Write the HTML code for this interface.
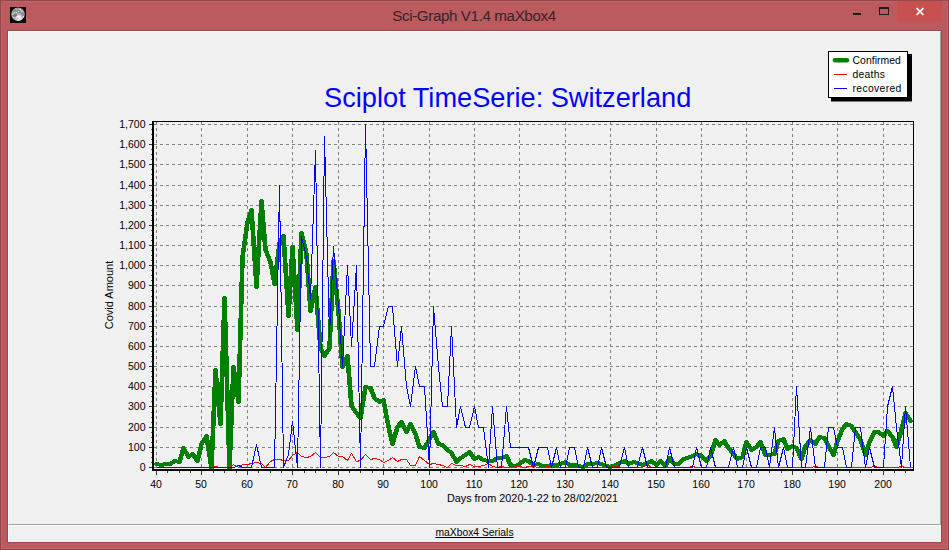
<!DOCTYPE html>
<html><head><meta charset="utf-8"><title>Sci-Graph V1.4 maXbox4</title>
<style>
html,body{margin:0;padding:0;}
body{width:949px;height:550px;overflow:hidden;background:#bb5a5f;font-family:"Liberation Sans",sans-serif;position:relative;}
#frame{position:absolute;left:0;top:0;width:947px;height:548px;border:1px solid #8f484c;background:#bb5a5f;}
#title{position:absolute;left:0;top:6px;width:948px;text-align:center;font-size:15.2px;line-height:19px;color:#3a2226;letter-spacing:-0.4px;}
#icon{position:absolute;left:10px;top:7px;width:16px;height:16px;background:#000;}
#close{position:absolute;left:897px;top:1px;width:45px;height:20px;background:#c75050;}
#content{position:absolute;left:8px;top:31px;width:933px;height:511px;background:#f0f0f0;}
#edge{position:absolute;left:7px;top:30px;width:933px;height:511px;border:1px solid #a3464c;}
#hl{position:absolute;left:1px;top:1px;width:945px;height:546px;border:1px solid #c26368;}
#panel{position:absolute;left:8px;top:31px;width:931px;height:492px;border-left:1px solid #fff;border-top:1px solid #fff;border-right:1px solid #a0a0a0;border-bottom:1px solid #a0a0a0;}
#status{position:absolute;left:8px;top:525px;width:932px;height:17px;border-top:1px solid #fff;border-left:1px solid #fff;box-sizing:border-box;text-align:center;font-size:10.35px;line-height:13px;color:#000;}
#status span{text-decoration:underline;}
#chart{position:absolute;left:0;top:0;}
</style></head><body>
<div id="frame"></div>
<div id="hl"></div>
<div id="edge"></div>
<div id="content"></div>
<div id="panel"></div>
<div id="icon"><svg width="16" height="16" viewBox="0 0 16 16"><defs><radialGradient id="mg" cx="8.8" cy="10.9" r="4.8" gradientUnits="userSpaceOnUse"><stop offset="0" stop-color="#fcfcfc"/><stop offset="0.5" stop-color="#e6e6e6" stop-opacity="0.95"/><stop offset="1" stop-color="#c0c0c0" stop-opacity="0"/></radialGradient><clipPath id="mc"><circle cx="8" cy="7.3" r="6.8"/></clipPath></defs><circle cx="8" cy="7.3" r="6.8" fill="#a0a0a0"/><g clip-path="url(#mc)"><ellipse cx="7" cy="4.3" rx="3.6" ry="2" fill="#8a8a8a"/><ellipse cx="12.3" cy="7.4" rx="1.5" ry="2.2" fill="#8c8c8c"/><circle cx="8" cy="7.3" r="6.8" fill="url(#mg)"/><ellipse cx="5" cy="8.5" rx="2.2" ry="1.3" fill="#787878" transform="rotate(-15 5 8.5)"/><ellipse cx="7.2" cy="11.7" rx="1.7" ry="0.5" fill="#b0b0b0" transform="rotate(-15 7.2 11.7)"/><circle cx="4.9" cy="5.5" r="0.65" fill="#f6f6f6"/><circle cx="6.7" cy="5.6" r="0.6" fill="#f2f2f2"/><circle cx="8.5" cy="4.6" r="0.55" fill="#ededed"/><circle cx="10.3" cy="2.5" r="0.75" fill="#f0f0f0"/><circle cx="11.9" cy="4" r="0.8" fill="#eaeaea"/><circle cx="3" cy="7" r="0.7" fill="#e0e0e0"/><circle cx="13.4" cy="9.6" r="0.7" fill="#e6e6e6"/><circle cx="6.2" cy="2.7" r="0.55" fill="#d8d8d8"/><circle cx="3.8" cy="10.6" r="0.7" fill="#ececec"/></g></svg></div>
<div id="title">Sci-Graph V1.4 maXbox4</div>
<div id="close"></div>
<svg id="ctl" style="position:absolute;left:0;top:0" width="949" height="31" viewBox="0 0 949 31" shape-rendering="crispEdges">
<rect x="853" y="13" width="8" height="2" fill="#1e1e1e"/>
<rect x="879" y="7" width="10" height="8" fill="none"/>
<path d="M879 7h10v8h-10z M880 9v5h8v-5z" fill="#1e1e1e" fill-rule="evenodd"/>
<path d="M916.6 8.1 L923.4 14.9 M923.4 8.1 L916.6 14.9" stroke="#fff" stroke-width="1.6" fill="none" shape-rendering="geometricPrecision"/>
</svg>
<div id="status"><span>maXbox4 Serials</span></div>
<svg id="chart" width="949" height="550" viewBox="0 0 949 550">
<g stroke="#808080" stroke-width="1" stroke-dasharray="3 3" shape-rendering="crispEdges" fill="none"><line x1="154" x2="913" y1="467.5" y2="467.5"/><line x1="154" x2="913" y1="447.5" y2="447.5"/><line x1="154" x2="913" y1="427.5" y2="427.5"/><line x1="154" x2="913" y1="406.5" y2="406.5"/><line x1="154" x2="913" y1="386.5" y2="386.5"/><line x1="154" x2="913" y1="366.5" y2="366.5"/><line x1="154" x2="913" y1="346.5" y2="346.5"/><line x1="154" x2="913" y1="326.5" y2="326.5"/><line x1="154" x2="913" y1="306.5" y2="306.5"/><line x1="154" x2="913" y1="285.5" y2="285.5"/><line x1="154" x2="913" y1="265.5" y2="265.5"/><line x1="154" x2="913" y1="245.5" y2="245.5"/><line x1="154" x2="913" y1="225.5" y2="225.5"/><line x1="154" x2="913" y1="205.5" y2="205.5"/><line x1="154" x2="913" y1="185.5" y2="185.5"/><line x1="154" x2="913" y1="164.5" y2="164.5"/><line x1="154" x2="913" y1="144.5" y2="144.5"/><line x1="154" x2="913" y1="124.5" y2="124.5"/><line x1="156.5" x2="156.5" y1="122" y2="469"/><line x1="201.5" x2="201.5" y1="122" y2="469"/><line x1="247.5" x2="247.5" y1="122" y2="469"/><line x1="292.5" x2="292.5" y1="122" y2="469"/><line x1="338.5" x2="338.5" y1="122" y2="469"/><line x1="383.5" x2="383.5" y1="122" y2="469"/><line x1="429.5" x2="429.5" y1="122" y2="469"/><line x1="474.5" x2="474.5" y1="122" y2="469"/><line x1="519.5" x2="519.5" y1="122" y2="469"/><line x1="565.5" x2="565.5" y1="122" y2="469"/><line x1="610.5" x2="610.5" y1="122" y2="469"/><line x1="656.5" x2="656.5" y1="122" y2="469"/><line x1="701.5" x2="701.5" y1="122" y2="469"/><line x1="746.5" x2="746.5" y1="122" y2="469"/><line x1="792.5" x2="792.5" y1="122" y2="469"/><line x1="837.5" x2="837.5" y1="122" y2="469"/><line x1="883.5" x2="883.5" y1="122" y2="469"/></g>
<clipPath id="cp"><rect x="154" y="122" width="759" height="349"/></clipPath>
<g clip-path="url(#cp)" fill="none" shape-rendering="crispEdges">
<path d="M136.09 463.5 L140.43 464.5 L143.91 463.5 L148.26 463.5 L151.74 460.5 L156.09 461.5 L159.57 447.5 L163.91 456.5 L167.39 453.5 L171.74 460.5 L175.22 443.5 L179.57 435.5 L183.91 467.5 L187.39 369.5 L191.74 423.5 L195.22 297.5 L199.57 467.5 L203.04 366.5 L207.39 401.5 L210.87 256.5 L215.22 221.5 L218.70 209.5 L223.04 286.5 L227.39 200.5 L230.87 249.5 L235.22 261.5 L238.70 283.5 L243.04 242.5 L246.52 235.5 L250.87 315.5 L254.35 246.5 L258.70 329.5 L262.17 232.5 L266.52 253.5 L270.00 310.5 L274.35 286.5 L278.70 347.5 L282.17 355.5 L286.52 347.5 L290.00 260.5 L294.35 311.5 L297.83 366.5 L302.17 355.5 L305.65 405.5 L310.00 412.5 L313.48 417.5 L317.83 386.5 L322.17 387.5 L325.65 397.5 L330.00 401.5 L333.48 399.5 L337.83 426.5 L341.30 443.5 L345.65 426.5 L349.13 421.5 L353.48 431.5 L356.96 423.5 L361.30 433.5 L364.78 446.5 L369.13 447.5 L373.48 438.5 L376.96 431.5 L381.30 443.5 L384.78 444.5 L389.13 449.5 L392.61 452.5 L396.96 461.5 L400.43 457.5 L404.78 454.5 L408.26 451.5 L412.61 458.5 L416.09 456.5 L420.43 459.5 L424.78 460.5 L428.26 460.5 L432.61 457.5 L436.09 457.5 L440.43 455.5 L443.91 464.5 L448.26 465.5 L451.74 463.5 L456.09 459.5 L459.57 460.5 L463.91 464.5 L468.26 463.5 L471.74 465.5 L476.09 465.5 L479.57 464.5 L483.91 464.5 L487.39 463.5 L491.74 461.5 L495.22 464.5 L499.57 464.5 L503.04 465.5 L507.39 466.5 L510.87 463.5 L515.22 463.5 L519.57 462.5 L523.04 463.5 L527.39 465.5 L530.87 466.5 L535.22 464.5 L538.70 462.5 L543.04 460.5 L546.52 463.5 L550.87 461.5 L554.35 462.5 L558.70 464.5 L563.04 462.5 L566.52 460.5 L570.87 464.5 L574.35 460.5 L578.70 465.5 L582.17 457.5 L586.52 463.5 L590.00 463.5 L594.35 458.5 L597.83 457.5 L602.17 455.5 L605.65 453.5 L610.00 455.5 L614.35 460.5 L617.83 455.5 L622.17 439.5 L625.65 444.5 L630.00 440.5 L633.48 447.5 L637.83 453.5 L641.30 458.5 L645.65 456.5 L649.13 441.5 L653.48 449.5 L657.83 446.5 L661.30 441.5 L665.65 454.5 L669.13 454.5 L673.48 453.5 L676.96 440.5 L681.30 438.5 L684.78 448.5 L689.13 445.5 L692.61 447.5 L696.96 458.5 L700.43 445.5 L704.78 439.5 L709.13 443.5 L712.61 436.5 L716.96 437.5 L720.43 445.5 L724.78 454.5 L728.26 440.5 L732.61 428.5 L736.09 423.5 L740.43 425.5 L743.91 431.5 L748.26 439.5 L752.61 454.5 L756.09 441.5 L760.43 431.5 L763.91 431.5 L768.26 435.5 L771.74 430.5 L776.09 436.5 L779.57 446.5 L783.91 429.5 L787.39 412.5 L791.74 420.5" stroke="#008000" stroke-width="4" stroke-linejoin="round" stroke-linecap="round" transform="translate(0 0.5) scale(1.15 1)"/>
<path d="M156.50 467.5 L161.50 467.5 L165.50 467.5 L170.50 467.5 L174.50 467.5 L179.50 467.5 L183.50 467.5 L188.50 467.5 L192.50 467.5 L197.50 467.5 L201.50 467.5 L206.50 467.5 L211.50 467.5 L215.50 466.5 L220.50 467.5 L224.50 467.5 L229.50 467.5 L233.50 464.5 L238.50 467.5 L242.50 464.5 L247.50 464.5 L251.50 463.5 L256.50 462.5 L261.50 463.5 L265.50 467.5 L270.50 461.5 L274.50 459.5 L279.50 459.5 L283.50 460.5 L288.50 460.5 L292.50 455.5 L297.50 452.5 L301.50 456.5 L306.50 457.5 L310.50 456.5 L315.50 452.5 L320.50 457.5 L324.50 457.5 L329.50 456.5 L333.50 452.5 L338.50 456.5 L342.50 456.5 L347.50 460.5 L351.50 453.5 L356.50 461.5 L360.50 460.5 L365.50 454.5 L370.50 459.5 L374.50 458.5 L379.50 459.5 L383.50 462.5 L388.50 460.5 L392.50 457.5 L397.50 461.5 L401.50 459.5 L406.50 459.5 L410.50 465.5 L415.50 465.5 L419.50 456.5 L424.50 460.5 L429.50 464.5 L433.50 463.5 L438.50 464.5 L442.50 465.5 L447.50 467.5 L451.50 463.5 L456.50 465.5 L460.50 465.5 L465.50 466.5 L469.50 464.5 L474.50 466.5 L478.50 466.5 L483.50 465.5 L488.50 463.5 L492.50 466.5 L497.50 467.5 L501.50 466.5 L506.50 467.5 L510.50 467.5 L515.50 466.5 L519.50 466.5 L524.50 467.5 L528.50 466.5 L533.50 466.5 L538.50 467.5 L542.50 467.5 L547.50 466.5 L551.50 467.5 L556.50 467.5 L560.50 467.5 L565.50 467.5 L569.50 467.5 L574.50 467.5 L578.50 467.5 L583.50 467.5 L587.50 467.5 L592.50 467.5 L597.50 467.5 L601.50 467.5 L606.50 467.5 L610.50 467.5 L615.50 465.5 L619.50 467.5 L624.50 467.5 L628.50 467.5 L633.50 467.5 L637.50 467.5 L642.50 467.5 L647.50 464.5 L651.50 467.5 L656.50 467.5 L660.50 467.5 L665.50 467.5 L669.50 467.5 L674.50 467.5 L678.50 467.5 L683.50 467.5 L687.50 467.5 L692.50 466.5 L696.50 467.5 L701.50 467.5 L706.50 467.5 L710.50 467.5 L715.50 467.5 L719.50 467.5 L724.50 467.5 L728.50 467.5 L733.50 467.5 L737.50 467.5 L742.50 467.5 L746.50 467.5 L751.50 467.5 L756.50 467.5 L760.50 467.5 L765.50 467.5 L769.50 467.5 L774.50 467.5 L778.50 467.5 L783.50 467.5 L787.50 467.5 L792.50 467.5 L796.50 467.5 L801.50 467.5 L805.50 467.5 L810.50 467.5 L815.50 466.5 L819.50 467.5 L824.50 467.5 L828.50 467.5 L833.50 467.5 L837.50 467.5 L842.50 467.5 L846.50 467.5 L851.50 467.5 L855.50 467.5 L860.50 467.5 L865.50 467.5 L869.50 467.5 L874.50 466.5 L878.50 467.5 L883.50 467.5 L887.50 467.5 L892.50 467.5 L896.50 467.5 L901.50 466.5 L905.50 467.5 L910.50 467.5" stroke="#ff0000" stroke-width="1"/>
<path d="M156.50 467.5 L161.50 467.5 L165.50 467.5 L170.50 467.5 L174.50 467.5 L179.50 467.5 L183.50 467.5 L188.50 467.5 L192.50 467.5 L197.50 467.5 L201.50 467.5 L206.50 467.5 L211.50 467.5 L215.50 467.5 L220.50 467.5 L224.50 467.5 L229.50 467.5 L233.50 467.5 L238.50 465.5 L242.50 467.5 L247.50 467.5 L251.50 467.5 L256.50 444.5 L261.50 467.5 L265.50 467.5 L270.50 467.5 L274.50 467.5 L279.50 185.5 L283.50 467.5 L288.50 454.5 L292.50 421.5 L297.50 467.5 L301.50 236.5 L306.50 256.5 L310.50 299.5 L315.50 150.5 L320.50 467.5 L324.50 136.5 L329.50 336.5 L333.50 246.5 L338.50 306.5 L342.50 366.5 L347.50 265.5 L351.50 346.5 L356.50 265.5 L360.50 467.5 L365.50 124.5 L370.50 366.5 L374.50 366.5 L379.50 326.5 L383.50 326.5 L388.50 306.5 L392.50 306.5 L397.50 366.5 L401.50 326.5 L406.50 386.5 L410.50 406.5 L415.50 366.5 L419.50 386.5 L424.50 386.5 L429.50 467.5 L433.50 306.5 L438.50 366.5 L442.50 406.5 L447.50 406.5 L451.50 326.5 L456.50 427.5 L460.50 406.5 L465.50 427.5 L469.50 427.5 L474.50 406.5 L478.50 427.5 L483.50 427.5 L488.50 467.5 L492.50 406.5 L497.50 467.5 L501.50 467.5 L506.50 406.5 L510.50 447.5 L515.50 447.5 L519.50 447.5 L524.50 447.5 L528.50 447.5 L533.50 467.5 L538.50 447.5 L542.50 447.5 L547.50 447.5 L551.50 467.5 L556.50 447.5 L560.50 467.5 L565.50 467.5 L569.50 447.5 L574.50 447.5 L578.50 467.5 L583.50 467.5 L587.50 447.5 L592.50 467.5 L597.50 467.5 L601.50 447.5 L606.50 467.5 L610.50 467.5 L615.50 467.5 L619.50 467.5 L624.50 447.5 L628.50 467.5 L633.50 467.5 L637.50 467.5 L642.50 447.5 L647.50 467.5 L651.50 467.5 L656.50 467.5 L660.50 467.5 L665.50 467.5 L669.50 447.5 L674.50 467.5 L678.50 467.5 L683.50 467.5 L687.50 467.5 L692.50 467.5 L696.50 447.5 L701.50 467.5 L706.50 467.5 L710.50 447.5 L715.50 467.5 L719.50 467.5 L724.50 467.5 L728.50 467.5 L733.50 447.5 L737.50 467.5 L742.50 467.5 L746.50 447.5 L751.50 467.5 L756.50 467.5 L760.50 447.5 L765.50 447.5 L769.50 467.5 L774.50 427.5 L778.50 467.5 L783.50 447.5 L787.50 467.5 L792.50 467.5 L796.50 386.5 L801.50 467.5 L805.50 467.5 L810.50 427.5 L815.50 467.5 L819.50 467.5 L824.50 467.5 L828.50 427.5 L833.50 427.5 L837.50 447.5 L842.50 447.5 L846.50 467.5 L851.50 467.5 L855.50 427.5 L860.50 427.5 L865.50 467.5 L869.50 447.5 L874.50 467.5 L878.50 467.5 L883.50 467.5 L887.50 406.5 L892.50 386.5 L896.50 427.5 L901.50 467.5 L905.50 406.5 L910.50 467.5" stroke="#0000ff" stroke-width="1"/>
</g>
<g fill="#000" shape-rendering="crispEdges"><rect x="152" y="121" width="2" height="350"/><rect x="152" y="469" width="762" height="2"/><rect x="152" y="121" width="762" height="1"/><rect x="913" y="121" width="1" height="350"/><rect x="149" y="467" width="3" height="1" fill="#333"/><rect x="149" y="447" width="3" height="1" fill="#333"/><rect x="149" y="427" width="3" height="1" fill="#333"/><rect x="149" y="406" width="3" height="1" fill="#333"/><rect x="149" y="386" width="3" height="1" fill="#333"/><rect x="149" y="366" width="3" height="1" fill="#333"/><rect x="149" y="346" width="3" height="1" fill="#333"/><rect x="149" y="326" width="3" height="1" fill="#333"/><rect x="149" y="306" width="3" height="1" fill="#333"/><rect x="149" y="285" width="3" height="1" fill="#333"/><rect x="149" y="265" width="3" height="1" fill="#333"/><rect x="149" y="245" width="3" height="1" fill="#333"/><rect x="149" y="225" width="3" height="1" fill="#333"/><rect x="149" y="205" width="3" height="1" fill="#333"/><rect x="149" y="185" width="3" height="1" fill="#333"/><rect x="149" y="164" width="3" height="1" fill="#333"/><rect x="149" y="144" width="3" height="1" fill="#333"/><rect x="149" y="124" width="3" height="1" fill="#333"/><rect x="151" y="462" width="1" height="1" fill="#555"/><rect x="151" y="457" width="1" height="1" fill="#555"/><rect x="151" y="452" width="1" height="1" fill="#555"/><rect x="151" y="442" width="1" height="1" fill="#555"/><rect x="151" y="437" width="1" height="1" fill="#555"/><rect x="151" y="432" width="1" height="1" fill="#555"/><rect x="151" y="422" width="1" height="1" fill="#555"/><rect x="151" y="417" width="1" height="1" fill="#555"/><rect x="151" y="412" width="1" height="1" fill="#555"/><rect x="151" y="401" width="1" height="1" fill="#555"/><rect x="151" y="396" width="1" height="1" fill="#555"/><rect x="151" y="391" width="1" height="1" fill="#555"/><rect x="151" y="381" width="1" height="1" fill="#555"/><rect x="151" y="376" width="1" height="1" fill="#555"/><rect x="151" y="371" width="1" height="1" fill="#555"/><rect x="151" y="361" width="1" height="1" fill="#555"/><rect x="151" y="356" width="1" height="1" fill="#555"/><rect x="151" y="351" width="1" height="1" fill="#555"/><rect x="151" y="341" width="1" height="1" fill="#555"/><rect x="151" y="336" width="1" height="1" fill="#555"/><rect x="151" y="331" width="1" height="1" fill="#555"/><rect x="151" y="321" width="1" height="1" fill="#555"/><rect x="151" y="316" width="1" height="1" fill="#555"/><rect x="151" y="311" width="1" height="1" fill="#555"/><rect x="151" y="301" width="1" height="1" fill="#555"/><rect x="151" y="296" width="1" height="1" fill="#555"/><rect x="151" y="290" width="1" height="1" fill="#555"/><rect x="151" y="280" width="1" height="1" fill="#555"/><rect x="151" y="275" width="1" height="1" fill="#555"/><rect x="151" y="270" width="1" height="1" fill="#555"/><rect x="151" y="260" width="1" height="1" fill="#555"/><rect x="151" y="255" width="1" height="1" fill="#555"/><rect x="151" y="250" width="1" height="1" fill="#555"/><rect x="151" y="240" width="1" height="1" fill="#555"/><rect x="151" y="235" width="1" height="1" fill="#555"/><rect x="151" y="230" width="1" height="1" fill="#555"/><rect x="151" y="220" width="1" height="1" fill="#555"/><rect x="151" y="215" width="1" height="1" fill="#555"/><rect x="151" y="210" width="1" height="1" fill="#555"/><rect x="151" y="200" width="1" height="1" fill="#555"/><rect x="151" y="195" width="1" height="1" fill="#555"/><rect x="151" y="190" width="1" height="1" fill="#555"/><rect x="151" y="179" width="1" height="1" fill="#555"/><rect x="151" y="174" width="1" height="1" fill="#555"/><rect x="151" y="169" width="1" height="1" fill="#555"/><rect x="151" y="159" width="1" height="1" fill="#555"/><rect x="151" y="154" width="1" height="1" fill="#555"/><rect x="151" y="149" width="1" height="1" fill="#555"/><rect x="151" y="139" width="1" height="1" fill="#555"/><rect x="151" y="134" width="1" height="1" fill="#555"/><rect x="151" y="129" width="1" height="1" fill="#555"/><rect x="156" y="471" width="1" height="4" fill="#333"/><rect x="167" y="471" width="1" height="2" fill="#333"/><rect x="179" y="471" width="1" height="2" fill="#333"/><rect x="190" y="471" width="1" height="2" fill="#333"/><rect x="201" y="471" width="1" height="4" fill="#333"/><rect x="213" y="471" width="1" height="2" fill="#333"/><rect x="224" y="471" width="1" height="2" fill="#333"/><rect x="236" y="471" width="1" height="2" fill="#333"/><rect x="247" y="471" width="1" height="4" fill="#333"/><rect x="258" y="471" width="1" height="2" fill="#333"/><rect x="270" y="471" width="1" height="2" fill="#333"/><rect x="281" y="471" width="1" height="2" fill="#333"/><rect x="292" y="471" width="1" height="4" fill="#333"/><rect x="304" y="471" width="1" height="2" fill="#333"/><rect x="315" y="471" width="1" height="2" fill="#333"/><rect x="326" y="471" width="1" height="2" fill="#333"/><rect x="338" y="471" width="1" height="4" fill="#333"/><rect x="349" y="471" width="1" height="2" fill="#333"/><rect x="360" y="471" width="1" height="2" fill="#333"/><rect x="372" y="471" width="1" height="2" fill="#333"/><rect x="383" y="471" width="1" height="4" fill="#333"/><rect x="394" y="471" width="1" height="2" fill="#333"/><rect x="406" y="471" width="1" height="2" fill="#333"/><rect x="417" y="471" width="1" height="2" fill="#333"/><rect x="429" y="471" width="1" height="4" fill="#333"/><rect x="440" y="471" width="1" height="2" fill="#333"/><rect x="451" y="471" width="1" height="2" fill="#333"/><rect x="463" y="471" width="1" height="2" fill="#333"/><rect x="474" y="471" width="1" height="4" fill="#333"/><rect x="485" y="471" width="1" height="2" fill="#333"/><rect x="497" y="471" width="1" height="2" fill="#333"/><rect x="508" y="471" width="1" height="2" fill="#333"/><rect x="519" y="471" width="1" height="4" fill="#333"/><rect x="531" y="471" width="1" height="2" fill="#333"/><rect x="542" y="471" width="1" height="2" fill="#333"/><rect x="553" y="471" width="1" height="2" fill="#333"/><rect x="565" y="471" width="1" height="4" fill="#333"/><rect x="576" y="471" width="1" height="2" fill="#333"/><rect x="587" y="471" width="1" height="2" fill="#333"/><rect x="599" y="471" width="1" height="2" fill="#333"/><rect x="610" y="471" width="1" height="4" fill="#333"/><rect x="622" y="471" width="1" height="2" fill="#333"/><rect x="633" y="471" width="1" height="2" fill="#333"/><rect x="644" y="471" width="1" height="2" fill="#333"/><rect x="656" y="471" width="1" height="4" fill="#333"/><rect x="667" y="471" width="1" height="2" fill="#333"/><rect x="678" y="471" width="1" height="2" fill="#333"/><rect x="690" y="471" width="1" height="2" fill="#333"/><rect x="701" y="471" width="1" height="4" fill="#333"/><rect x="712" y="471" width="1" height="2" fill="#333"/><rect x="724" y="471" width="1" height="2" fill="#333"/><rect x="735" y="471" width="1" height="2" fill="#333"/><rect x="746" y="471" width="1" height="4" fill="#333"/><rect x="758" y="471" width="1" height="2" fill="#333"/><rect x="769" y="471" width="1" height="2" fill="#333"/><rect x="781" y="471" width="1" height="2" fill="#333"/><rect x="792" y="471" width="1" height="4" fill="#333"/><rect x="803" y="471" width="1" height="2" fill="#333"/><rect x="815" y="471" width="1" height="2" fill="#333"/><rect x="826" y="471" width="1" height="2" fill="#333"/><rect x="837" y="471" width="1" height="4" fill="#333"/><rect x="849" y="471" width="1" height="2" fill="#333"/><rect x="860" y="471" width="1" height="2" fill="#333"/><rect x="871" y="471" width="1" height="2" fill="#333"/><rect x="883" y="471" width="1" height="4" fill="#333"/><rect x="894" y="471" width="1" height="2" fill="#333"/><rect x="905" y="471" width="1" height="2" fill="#333"/></g>
<g font-family="Liberation Sans, sans-serif" font-size="10.5px" fill="#000"><text x="145.5" y="470.9" text-anchor="end">0</text><text x="145.5" y="450.9" text-anchor="end">100</text><text x="145.5" y="430.9" text-anchor="end">200</text><text x="145.5" y="409.9" text-anchor="end">300</text><text x="145.5" y="389.9" text-anchor="end">400</text><text x="145.5" y="369.9" text-anchor="end">500</text><text x="145.5" y="349.9" text-anchor="end">600</text><text x="145.5" y="329.9" text-anchor="end">700</text><text x="145.5" y="309.9" text-anchor="end">800</text><text x="145.5" y="288.9" text-anchor="end">900</text><text x="145.5" y="268.9" text-anchor="end">1,000</text><text x="145.5" y="248.9" text-anchor="end">1,100</text><text x="145.5" y="228.9" text-anchor="end">1,200</text><text x="145.5" y="208.9" text-anchor="end">1,300</text><text x="145.5" y="188.9" text-anchor="end">1,400</text><text x="145.5" y="167.9" text-anchor="end">1,500</text><text x="145.5" y="147.9" text-anchor="end">1,600</text><text x="145.5" y="127.9" text-anchor="end">1,700</text><text x="156.1" y="488" text-anchor="middle">40</text><text x="201.1" y="488" text-anchor="middle">50</text><text x="247.1" y="488" text-anchor="middle">60</text><text x="292.1" y="488" text-anchor="middle">70</text><text x="338.1" y="488" text-anchor="middle">80</text><text x="383.1" y="488" text-anchor="middle">90</text><text x="429.1" y="488" text-anchor="middle">100</text><text x="474.1" y="488" text-anchor="middle">110</text><text x="519.1" y="488" text-anchor="middle">120</text><text x="565.1" y="488" text-anchor="middle">130</text><text x="610.1" y="488" text-anchor="middle">140</text><text x="656.1" y="488" text-anchor="middle">150</text><text x="701.1" y="488" text-anchor="middle">160</text><text x="746.1" y="488" text-anchor="middle">170</text><text x="792.1" y="488" text-anchor="middle">180</text><text x="837.1" y="488" text-anchor="middle">190</text><text x="883.1" y="488" text-anchor="middle">200</text></g>
<text x="532.5" y="502" text-anchor="middle" font-family="Liberation Sans, sans-serif" font-size="10.85px" fill="#000">Days from 2020-1-22 to 28/02/2021</text>
<text transform="translate(112.8 295) rotate(-90)" text-anchor="middle" font-family="Liberation Sans, sans-serif" font-size="11px" fill="#000">Covid Amount</text>
<text x="507.7" y="107" text-anchor="middle" font-family="Liberation Sans, sans-serif" font-size="27.2px" fill="#0000ff">Sciplot TimeSerie: Switzerland</text>
<rect x="831" y="54" width="81" height="47.5" fill="#000"/>
<rect x="828.5" y="51.5" width="79" height="46" fill="#fff" stroke="#000" stroke-width="1" shape-rendering="crispEdges"/>
<line x1="835" x2="847" y1="60.2" y2="60.2" stroke="#008000" stroke-width="4.5" stroke-linecap="round"/>
<rect x="834" y="74" width="13" height="1" fill="#ff0000"/>
<rect x="834" y="88" width="13" height="1" fill="#0000ff"/>
<g font-family="Liberation Sans, sans-serif" font-size="10.4px" fill="#000"><text x="852.5" y="63.5" letter-spacing="0.05">Confirmed</text><text x="852.5" y="77.5" letter-spacing="0.23">deaths</text><text x="852.5" y="91.5" letter-spacing="0.33">recovered</text></g>
</svg>
</body></html>
